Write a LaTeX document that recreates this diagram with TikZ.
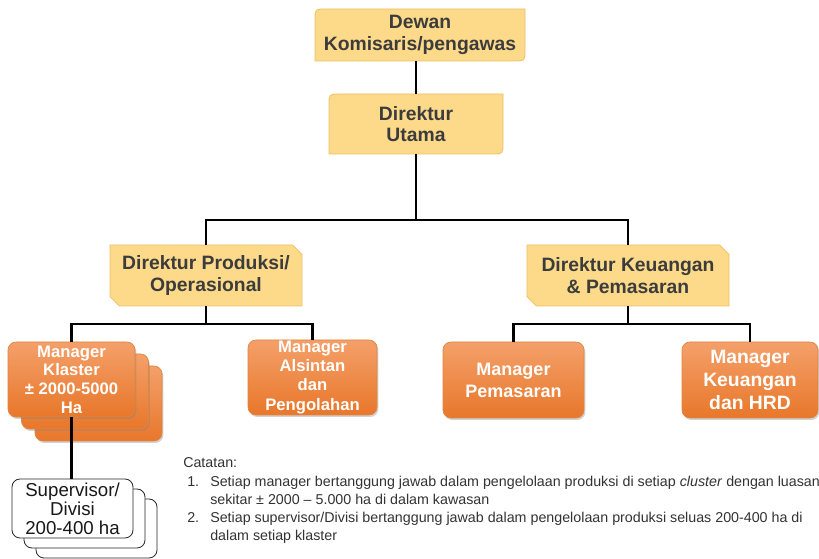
\documentclass[tikz,border=0pt]{standalone}
\usepackage{fontspec}
\setmainfont{Liberation Sans}
\usetikzlibrary{backgrounds,shadows}

\definecolor{yelFill}{HTML}{FDD98A}
\definecolor{yelEdge}{HTML}{EDC069}
\definecolor{yelText}{HTML}{3C3C3C}
\definecolor{orTop}{HTML}{F4A06A}
\definecolor{orBot}{HTML}{E8772A}
\definecolor{orEdge}{HTML}{E08540}
\definecolor{noteText}{HTML}{333333}

\tikzset{
  yelbox/.style={fill=yelFill,draw=yelEdge,line width=0.6pt},
  yeltext/.style={inner sep=0pt,outer sep=0pt,align=center,text=yelText,
    font=\fontsize{14.5}{16.5}\selectfont\bfseries},
  orbox/.style={rounded corners=6pt,top color=orTop,bottom color=orBot,draw=orEdge,
    line width=0.5pt,inner sep=0pt,outer sep=0pt,align=center,text=white,
    drop shadow={shadow xshift=1pt,shadow yshift=-1.5pt,opacity=0.35}},
  supbox/.style={rounded corners=6pt,fill=white,draw=black!85,line width=0.6pt,
    inner sep=0pt,outer sep=0pt,align=center,text=black!90,
    font=\fontsize{14}{14.3}\selectfont,minimum width=90.75pt,minimum height=44.25pt},
  link/.style={line width=1.8pt,black},
}

% yellow box, top-left and bottom-right corners rounded
\newcommand{\rounddiag}[1]{%
  \begin{scope}[on background layer]
    \path[yelbox] ([yshift=-8pt]#1.north west) .. controls (#1.north west) .. ([xshift=8pt]#1.north west)
      -- (#1.north east) -- ([yshift=8pt]#1.south east) .. controls (#1.south east) .. ([xshift=-8pt]#1.south east)
      -- (#1.south west) -- cycle;
  \end{scope}}
% yellow box, top-right and bottom-left corners snipped
\newcommand{\snipdiag}[1]{%
  \begin{scope}[on background layer]
    \path[yelbox] (#1.north west) -- ([xshift=-7pt]#1.north east) -- ([yshift=-7pt]#1.north east)
      -- (#1.south east) -- ([xshift=7pt]#1.south west) -- ([yshift=7pt]#1.south west) -- cycle;
  \end{scope}}

\begin{document}
\begin{tikzpicture}[x=0.75pt,y=-0.75pt]
  \begin{scope}[on background layer]
    \fill[white] (0,0) rectangle (819,559);
  \end{scope}
  \useasboundingbox (0,0) rectangle (819,559);

  % direksi
  \node[yeltext,minimum width=157.5pt,minimum height=39pt] (dewan) at (420,35) {Dewan\\Komisaris/pengawas};
  \node[yeltext,minimum width=130.5pt,minimum height=45pt,font=\fontsize{14.5}{15.5}\selectfont\bfseries] (utama) at (416,124) {Direktur\\Utama};
  \node[yeltext,minimum width=144pt,minimum height=45.75pt] (produksi) at (206,275.5) {Direktur Produksi/\\Operasional};
  \node[yeltext,minimum width=151.5pt,minimum height=45.75pt] (keuangan) at (628,275.5) {Direktur Keuangan\\\& Pemasaran};
  \rounddiag{dewan}
  \rounddiag{utama}
  \snipdiag{produksi}
  \snipdiag{keuangan}

  % manager
  \foreach \i in {2,1}{
    \node[orbox,minimum width=95.25pt,minimum height=56.25pt] (klaster\i) at (71.5+13.5*\i,379.5+12*\i) {};
  }
  \node[orbox,minimum width=95.25pt,minimum height=56.25pt,font=\fontsize{12.5}{14}\selectfont\bfseries] (klaster) at (71.5,379.5) {Manager\\Klaster\\± 2000-5000\\Ha};
  \node[orbox,minimum width=96.75pt,minimum height=56.25pt,font=\fontsize{12.5}{14.3}\selectfont\bfseries] (alsintan) at (312.5,377.5) {Manager\\Alsintan\\dan\\Pengolahan};
  \node[orbox,minimum width=105.75pt,minimum height=57pt,font=\fontsize{13.5}{16.5}\selectfont\bfseries] (pemasaran) at (513.5,380) {Manager\\Pemasaran};
  \node[orbox,minimum width=102pt,minimum height=57pt,font=\fontsize{14.5}{17}\selectfont\bfseries] (keuhrd) at (750,380) {Manager\\Keuangan\\dan HRD};

  % supervisor
  \foreach \i in {2,1}{
    \node[supbox] (supervisor\i) at (72.5+12*\i,508.5+10*\i) {};
  }
  \node[supbox] (supervisor) at (72.5,508.5) {Supervisor/\\Divisi\\200-400 ha};

  % garis
  \coordinate (topbus) at (416,220);
  \coordinate (prodbus) at (206,324);
  \coordinate (keubus) at (628,324);
  \draw[link] (utama.north) -- (utama.north |- dewan.south);
  \draw[link] (utama.south) -- (topbus);
  \draw[link] (produksi.north) |- (topbus) -| (keuangan.north);
  \draw[link] (produksi.south) -- (prodbus);
  \draw[link] (klaster.north) |- (prodbus) -| (alsintan.north);
  \draw[link] (keuangan.south) -- (keubus);
  \draw[link] (pemasaran.north) |- (keubus) -| (keuhrd.north);
  \draw[link] (klaster.south) -- (klaster.south |- supervisor.north);

  % catatan
  \node[anchor=north west,inner sep=0pt,align=left,text=noteText,font=\fontsize{10.7}{13.5}\selectfont] (catatan) at (183,457) {Catatan:\\[0.75pt]
    \hspace*{3pt}\makebox[17.25pt][l]{1.}Setiap manager bertanggung jawab dalam pengelolaan produksi di setiap \textit{cluster} dengan luasan\\
    \hspace*{20.25pt}sekitar ± 2000 – 5.000 ha di dalam kawasan\\
    \hspace*{3pt}\makebox[17.25pt][l]{2.}Setiap supervisor/Divisi bertanggung jawab dalam pengelolaan produksi seluas 200-400 ha di\\
    \hspace*{20.25pt}dalam setiap klaster};
\end{tikzpicture}
\end{document}
